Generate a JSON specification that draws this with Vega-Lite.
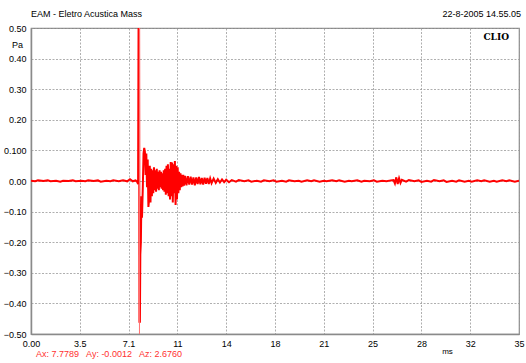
{
  "$schema": "https://vega.github.io/schema/vega-lite/v6.json",
  "autosize": "none",
  "width": 488,
  "height": 306,
  "padding": {"left": 31, "top": 28, "right": 7, "bottom": 29},
  "background": "white",
  "config": {
    "font": "Liberation Sans",
    "view": {"stroke": "#8a8a8a", "strokeWidth": 1.2},
    "axis": {"labelFont": "Liberation Sans", "labelFontSize": 9, "labelColor": "#000", "titleFont": "Liberation Sans", "titleFontSize": 9, "titleFontWeight": "normal", "titleColor": "#000",
      "gridColor": "#9a9a9a", "gridDash": [2, 1.5], "gridWidth": 0.8, "gridOpacity": 1, "domainColor": "#8a8a8a", "domainWidth": 1.5, "ticks": false, "labelOverlap": false, "labelFlush": false, "labelPadding": 5}
  },
  "datasets": {
    "signal": [
      {"t": 0, "p": 0.001}, {"t": 0.3, "p": -0.001}, {"t": 0.5, "p": 0.002}, {"t": 0.9, "p": 0.0}, {"t": 1.2, "p": 0.002}, {"t": 1.4, "p": -0.001}, {"t": 1.8, "p": 0.001}, {"t": 2.1, "p": -0.002}, {"t": 2.3, "p": 0.001}, {"t": 2.7, "p": 0.0}, {"t": 3.0, "p": 0.002}, {"t": 3.2, "p": -0.001}, {"t": 3.6, "p": 0.001}, {"t": 3.9, "p": -0.001}, {"t": 4.1, "p": 0.002}, {"t": 4.5, "p": 0.0}, {"t": 4.8, "p": 0.002}, {"t": 5.0, "p": -0.002}, {"t": 5.4, "p": 0.001}, {"t": 5.7, "p": -0.001}, {"t": 5.9, "p": 0.002}, {"t": 6.3, "p": -0.001}, {"t": 6.6, "p": 0.002}, {"t": 6.9, "p": -0.001}, {"t": 7.1, "p": 0.006}, {"t": 7.3, "p": -0.001}, {"t": 7.5, "p": 0.002}, {"t": 7.62, "p": -0.003},
      {"t": 7.68, "p": -0.01}, {"t": 7.72, "p": 0.6}, {"t": 7.75, "p": 0.6}, {"t": 7.78, "p": -0.46}, {"t": 7.81, "p": -0.46}, {"t": 7.84, "p": -0.24}, {"t": 7.88, "p": -0.2}, {"t": 7.92, "p": -0.05}, {"t": 7.96, "p": -0.12}, {"t": 8.02, "p": -0.02},
      {"t": 8.07, "p": 0.09}, {"t": 8.12, "p": 0.108}, {"t": 8.17, "p": 0.095}, {"t": 8.22, "p": 0.02}, {"t": 8.27, "p": 0.09}, {"t": 8.32, "p": -0.02}, {"t": 8.37, "p": 0.07}, {"t": 8.42, "p": -0.085}, {"t": 8.47, "p": -0.06}, {"t": 8.52, "p": 0.05}, {"t": 8.57, "p": -0.07}, {"t": 8.62, "p": 0.04}, {"t": 8.67, "p": -0.05}, {"t": 8.72, "p": 0.035}, {"t": 8.77, "p": -0.04}, {"t": 8.82, "p": 0.045}, {"t": 8.87, "p": -0.03}, {"t": 8.92, "p": 0.035}, {"t": 8.97, "p": -0.035}, {"t": 9.02, "p": 0.04}, {"t": 9.07, "p": -0.025}, {"t": 9.12, "p": 0.03}, {"t": 9.17, "p": -0.03}, {"t": 9.22, "p": 0.035}, {"t": 9.27, "p": -0.02}, {"t": 9.32, "p": 0.03}, {"t": 9.37, "p": -0.025}, {"t": 9.42, "p": 0.025}, {"t": 9.47, "p": -0.03}, {"t": 9.52, "p": 0.035}, {"t": 9.57, "p": -0.035}, {"t": 9.62, "p": 0.04}, {"t": 9.67, "p": -0.045}, {"t": 9.72, "p": 0.05}, {"t": 9.77, "p": -0.04}, {"t": 9.82, "p": 0.055}, {"t": 9.87, "p": -0.05}, {"t": 9.92, "p": 0.04}, {"t": 9.97, "p": -0.06}, {"t": 10.02, "p": 0.062}, {"t": 10.07, "p": -0.05}, {"t": 10.12, "p": 0.06}, {"t": 10.17, "p": -0.07}, {"t": 10.22, "p": 0.055}, {"t": 10.27, "p": -0.04}, {"t": 10.32, "p": 0.065}, {"t": 10.37, "p": -0.078}, {"t": 10.42, "p": 0.05}, {"t": 10.47, "p": -0.06}, {"t": 10.52, "p": 0.045}, {"t": 10.57, "p": -0.04}, {"t": 10.62, "p": 0.03}, {"t": 10.67, "p": -0.03}, {"t": 10.72, "p": 0.025}, {"t": 10.77, "p": -0.02}, {"t": 10.82, "p": 0.02}, {"t": 10.87, "p": -0.018}, {"t": 10.92, "p": 0.02}, {"t": 10.97, "p": -0.015},
      {"t": 11.05, "p": 0.017}, {"t": 11.15, "p": -0.014}, {"t": 11.25, "p": 0.016}, {"t": 11.35, "p": -0.012}, {"t": 11.45, "p": 0.014}, {"t": 11.55, "p": -0.012}, {"t": 11.65, "p": 0.012}, {"t": 11.75, "p": -0.014}, {"t": 11.85, "p": 0.012}, {"t": 11.95, "p": -0.01}, {"t": 12.05, "p": 0.013}, {"t": 12.15, "p": -0.011}, {"t": 12.25, "p": 0.01}, {"t": 12.35, "p": -0.012}, {"t": 12.45, "p": 0.011}, {"t": 12.55, "p": -0.009}, {"t": 12.65, "p": 0.01}, {"t": 12.75, "p": -0.01}, {"t": 12.85, "p": 0.008}, {"t": 12.95, "p": -0.007}, {"t": 13.1, "p": 0.008}, {"t": 13.25, "p": -0.006}, {"t": 13.4, "p": 0.006}, {"t": 13.55, "p": -0.005}, {"t": 13.7, "p": 0.005}, {"t": 13.85, "p": -0.004}, {"t": 14.0, "p": 0.004}, {"t": 14.2, "p": -0.004}, {"t": 14.4, "p": 0.003},
      {"t": 14.7, "p": -0.002}, {"t": 14.9, "p": 0.003}, {"t": 15.3, "p": -0.001}, {"t": 15.6, "p": 0.002}, {"t": 15.8, "p": -0.002}, {"t": 16.2, "p": 0.001}, {"t": 16.5, "p": -0.002}, {"t": 16.7, "p": 0.002}, {"t": 17.1, "p": -0.001}, {"t": 17.4, "p": 0.002}, {"t": 17.6, "p": -0.002}, {"t": 18.0, "p": 0.001}, {"t": 18.3, "p": -0.002}, {"t": 18.5, "p": 0.002}, {"t": 18.9, "p": -0.001}, {"t": 19.2, "p": 0.001}, {"t": 19.4, "p": -0.002}, {"t": 19.8, "p": 0.002}, {"t": 20.1, "p": -0.001}, {"t": 20.3, "p": 0.002}, {"t": 20.7, "p": -0.002}, {"t": 21.0, "p": 0.001}, {"t": 21.2, "p": -0.001}, {"t": 21.6, "p": 0.002}, {"t": 21.9, "p": -0.001}, {"t": 22.1, "p": 0.002}, {"t": 22.5, "p": -0.002}, {"t": 22.8, "p": 0.001}, {"t": 23.0, "p": -0.001}, {"t": 23.4, "p": 0.002}, {"t": 23.7, "p": -0.002}, {"t": 23.9, "p": 0.001}, {"t": 24.3, "p": -0.001}, {"t": 24.6, "p": 0.002}, {"t": 24.8, "p": -0.002}, {"t": 25.2, "p": 0.001}, {"t": 25.5, "p": -0.001}, {"t": 25.8, "p": 0.002},
      {"t": 26.0, "p": 0.003}, {"t": 26.1, "p": -0.008}, {"t": 26.2, "p": 0.012}, {"t": 26.3, "p": -0.01}, {"t": 26.4, "p": 0.009}, {"t": 26.5, "p": -0.006}, {"t": 26.6, "p": 0.004},
      {"t": 26.9, "p": -0.002}, {"t": 27.1, "p": 0.003}, {"t": 27.5, "p": -0.001}, {"t": 27.8, "p": 0.002}, {"t": 28.0, "p": -0.003}, {"t": 28.4, "p": 0.001}, {"t": 28.7, "p": -0.002}, {"t": 28.9, "p": 0.003}, {"t": 29.3, "p": -0.001}, {"t": 29.6, "p": 0.002}, {"t": 29.8, "p": -0.003}, {"t": 30.2, "p": 0.001}, {"t": 30.5, "p": -0.002}, {"t": 30.7, "p": 0.002}, {"t": 31.1, "p": -0.002}, {"t": 31.4, "p": 0.001}, {"t": 31.6, "p": -0.002}, {"t": 32.0, "p": 0.002}, {"t": 32.3, "p": -0.001}, {"t": 32.5, "p": 0.002}, {"t": 32.9, "p": -0.002}, {"t": 33.2, "p": 0.001}, {"t": 33.4, "p": -0.002}, {"t": 33.8, "p": 0.002}, {"t": 34.1, "p": -0.001}, {"t": 34.3, "p": 0.002}, {"t": 34.7, "p": -0.002}, {"t": 35.0, "p": 0.001}
    ],
    "one": [{}]
  },
  "encoding": {
    "x": {"type": "quantitative", "scale": {"domain": [0, 35], "nice": false},
      "axis": {"values": [0, 3.5, 7, 10.5, 14, 17.5, 21, 24.5, 28, 31.5, 35], "labelExpr": "datum.value == 0 ? '0.00' : datum.value == 3.5 ? '3.5' : datum.value == 7 ? '7.1' : format(round(datum.value), 'd')", "title": "ms", "titleX": 416, "titleY": 13, "titleAlign": "center", "titleFontSize": 8}},
    "y": {"type": "quantitative", "scale": {"domain": [-0.5, 0.5], "nice": false, "zero": false},
      "axis": {"values": [-0.5, -0.4, -0.3, -0.2, -0.1, 0, 0.1, 0.2, 0.3, 0.4, 0.5], "labelExpr": "abs(datum.value - 0.1) < 0.0001 ? '0.100' : format(datum.value, '.2f')", "title": "Pa", "titleAngle": 0, "titleX": -14, "titleY": 16, "titleAlign": "center", "titleBaseline": "middle"}}
  },
  "layer": [
    {
      "data": {"name": "signal"},
      "mark": {"type": "line", "color": "#ff0000", "strokeWidth": 2, "clip": true, "interpolate": "linear"},
      "encoding": {"x": {"field": "t"}, "y": {"field": "p"}}
    },
    {
      "data": {"name": "one"},
      "mark": {"type": "rule", "color": "#ff7070", "strokeWidth": 1},
      "encoding": {"x": {"datum": 7.7789}, "y": null}
    },
    {
      "data": {"name": "one"},
      "mark": {"type": "text", "align": "left", "baseline": "alphabetic", "dy": -11, "fontSize": 9, "font": "Liberation Sans", "color": "#000"},
      "encoding": {"x": {"datum": 0}, "y": {"datum": 0.5}, "text": {"value": "EAM - Eletro Acustica Mass"}}
    },
    {
      "data": {"name": "one"},
      "mark": {"type": "text", "align": "right", "baseline": "alphabetic", "dy": -11, "dx": 2, "fontSize": 9, "font": "Liberation Sans", "color": "#000"},
      "encoding": {"x": {"datum": 35}, "y": {"datum": 0.5}, "text": {"value": "22-8-2005 14.55.05"}}
    },
    {
      "data": {"name": "one"},
      "mark": {"type": "text", "align": "right", "baseline": "top", "dx": -10, "dy": 5, "fontSize": 9, "font": "DejaVu Serif", "fontWeight": "bold", "color": "#000"},
      "encoding": {"x": {"datum": 35}, "y": {"datum": 0.5}, "text": {"value": "CLIO"}}
    },
    {
      "data": {"name": "one"},
      "mark": {"type": "text", "align": "left", "baseline": "top", "dx": 5, "dy": 16, "fontSize": 9, "font": "Liberation Sans", "color": "#ff3030"},
      "encoding": {"x": {"datum": 0}, "y": {"datum": -0.5}, "text": {"value": "Ax: 7.7789\u00a0\u00a0 Ay: -0.0012\u00a0\u00a0 Az: 2.6760"}}
    }
  ]
}
